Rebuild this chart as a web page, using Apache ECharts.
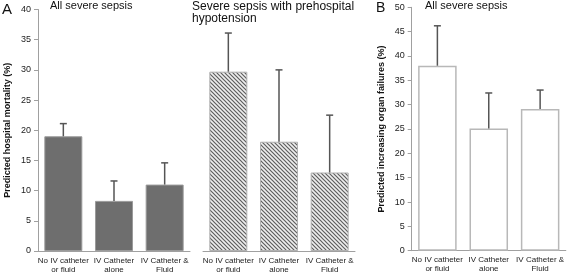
<!DOCTYPE html>
<html>
<head>
<meta charset="utf-8">
<script src="https://cdn.jsdelivr.net/npm/echarts@6/dist/echarts.min.js"></script>
<style>
  html, body { margin: 0; padding: 0; background: #fff; }
  #chart { width: 567px; height: 274px; }
</style>
</head>
<body>
<div id="chart"></div>
<script>
const categories = ['No IV catheter\nor fluid', 'IV Catheter\nalone', 'IV Catheter &\nFluid'];

// A, all severe sepsis — predicted hospital mortality (%)
const mortAll      = [19.0, 8.3, 11.0];
const mortAllUpper = [21.1, 11.6, 14.6];
// A, severe sepsis with prehospital hypotension
const mortHypo      = [29.7, 18.1, 13.0];
const mortHypoUpper = [36.1, 30.0, 22.5];
// B, all severe sepsis — predicted increasing organ failures (%)
const organFail      = [38.0, 25.1, 29.1];
const organFailUpper = [46.2, 32.4, 33.0];

const mortTicks  = [0, 5, 10, 15, 20, 25, 30, 35, 40];
const organTicks = [0, 5, 10, 15, 20, 25, 30, 35, 40, 45, 50];

const FONT = 'Liberation Sans, Arial, sans-serif';
const AXIS = '#a0a0a0';

// diagonal hatch for the hypotension bars
function hatch() {
  const c = document.createElement('canvas');
  c.width = 4; c.height = 4;
  const g = c.getContext('2d');
  g.fillStyle = '#eeeeee';
  g.fillRect(0, 0, 4, 4);
  g.strokeStyle = '#5e5e5e';
  g.lineWidth = 1.2;
  g.beginPath();
  g.moveTo(-1, -1); g.lineTo(5, 5);
  g.moveTo(-1, 3); g.lineTo(1, 5);
  g.moveTo(3, -1); g.lineTo(5, 1);
  g.stroke();
  return c;
}

function errBars(vals, upper, idx) {
  return {
    type: 'custom',
    xAxisIndex: idx, yAxisIndex: idx,
    z: 5,
    data: vals.map((v, i) => [i, v, upper[i]]),
    renderItem: (params, api) => {
      const a = api.coord([api.value(0), api.value(1)]);
      const b = api.coord([api.value(0), api.value(2)]);
      const st = { stroke: '#555', lineWidth: 1.5 };
      return {
        type: 'group',
        children: [
          { type: 'line', shape: { x1: a[0], y1: a[1], x2: b[0], y2: b[1] }, style: st },
          { type: 'line', shape: { x1: b[0] - 3.5, y1: b[1], x2: b[0] + 3.5, y2: b[1] }, style: st },
        ],
      };
    },
  };
}

function xAx(idx) {
  return {
    type: 'category', gridIndex: idx, data: categories,
    axisLine: { lineStyle: { color: AXIS, width: 1 } },
    axisTick: { length: 4, lineStyle: { color: AXIS } },
    axisLabel: { color: '#222', fontSize: 8, fontFamily: FONT, lineHeight: 9, margin: 5, interval: 0 },
  };
}

function yAx(idx, ticks, name, show) {
  return {
    type: 'value', gridIndex: idx,
    min: ticks[0], max: ticks[ticks.length - 1], interval: ticks[1] - ticks[0],
    show: show,
    name: name, nameLocation: 'middle', nameGap: 26,
    nameTextStyle: { fontSize: 9, fontWeight: 'bold', fontFamily: FONT, color: '#111' },
    axisLine: { show: true, lineStyle: { color: AXIS, width: 1 } },
    axisTick: { show: true, length: 4, lineStyle: { color: AXIS } },
    axisLabel: { color: '#222', fontSize: 9, fontFamily: FONT, margin: 7 },
    splitLine: { show: false },
  };
}

const titleStyle = (size) => ({ fontSize: size, fontWeight: 'normal', fontFamily: FONT, color: '#111' });

const chart = echarts.init(document.getElementById('chart'), null, { renderer: 'canvas' });
chart.setOption({
  backgroundColor: '#fff',
  animation: false,
  title: [
    { text: 'A', left: 2, top: 2, padding: 0, textStyle: titleStyle(15) },
    { text: 'All severe sepsis', left: 50, top: 0, padding: 0, textStyle: titleStyle(11) },
    { text: 'Severe sepsis with prehospital\nhypotension', left: 192, top: 0, padding: 0,
      textStyle: Object.assign(titleStyle(12), { lineHeight: 12.5 }) },
    { text: 'B', left: 376, top: 1, padding: 0, textStyle: titleStyle(14) },
    { text: 'All severe sepsis', left: 425, top: 0, padding: 0, textStyle: titleStyle(11) },
  ],
  grid: [
    { left: 38, width: 152, top: 9.5, height: 241.5 },
    { left: 203, width: 152, top: 9.5, height: 241.5 },
    { left: 411.7, width: 155, top: 7.3, height: 243.4 },
  ],
  xAxis: [xAx(0), xAx(1), xAx(2)],
  yAxis: [
    yAx(0, mortTicks, 'Predicted hospital mortality (%)', true),
    yAx(1, mortTicks, '', false),
    yAx(2, organTicks, 'Predicted increasing organ failures (%)', true),
  ],
  series: [
    {
      type: 'bar', xAxisIndex: 0, yAxisIndex: 0, data: mortAll, barCategoryGap: '25%',
      itemStyle: { color: '#6e6e6e', borderColor: '#9a9a9a', borderWidth: 1 },
    },
    errBars(mortAll, mortAllUpper, 0),
    {
      type: 'bar', xAxisIndex: 1, yAxisIndex: 1, data: mortHypo, barCategoryGap: '25%',
      itemStyle: { color: { image: hatch(), repeat: 'repeat' }, borderColor: '#b0b0b0', borderWidth: 1 },
    },
    errBars(mortHypo, mortHypoUpper, 1),
    {
      type: 'bar', xAxisIndex: 2, yAxisIndex: 2, data: organFail, barCategoryGap: '25%',
      itemStyle: { color: '#fff', borderColor: '#b8b8b8', borderWidth: 1.5 },
    },
    errBars(organFail, organFailUpper, 2),
  ],
});
window.addEventListener('resize', () => chart.resize());
</script>
</body>
</html>
